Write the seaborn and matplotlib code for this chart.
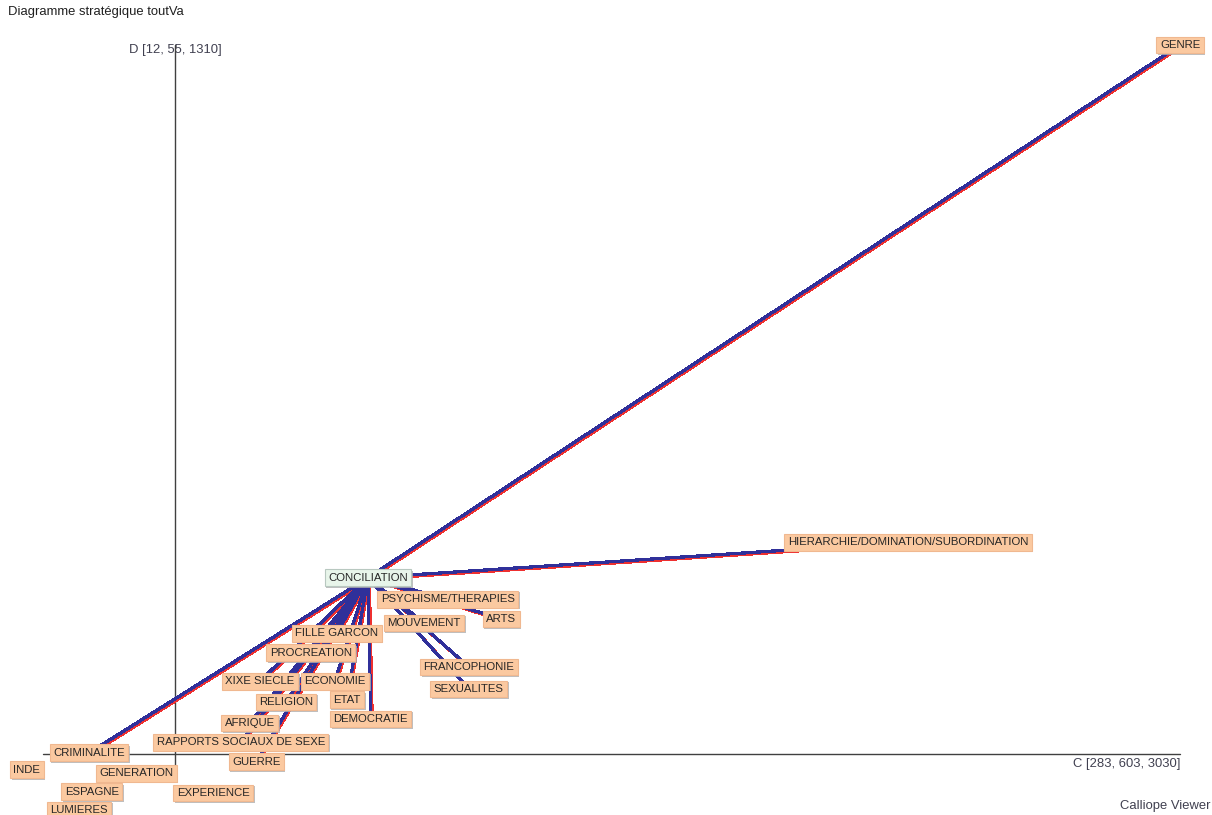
import pandas as pd
import matplotlib.pyplot as plt
import matplotlib.patheffects as pe
from matplotlib.transforms import offset_copy
import seaborn as sns

# node positions (C = centralite, D = densite)
themes = ["GENRE", "HIERARCHIE/DOMINATION/SUBORDINATION", "PSYCHISME/THERAPIES", "ARTS",
          "MOUVEMENT", "FRANCOPHONIE", "SEXUALITES", "FILLE GARCON", "PROCREATION",
          "XIXE SIECLE", "ECONOMIE", "RELIGION", "ETAT", "DEMOCRATIE", "AFRIQUE",
          "RAPPORTS SOCIAUX DE SEXE", "GUERRE", "CRIMINALITE", "INDE", "GENERATION",
          "ESPAGNE", "LUMIERES", "EXPERIENCE"]
c_vals = [3030, 2373, 1261, 1390, 1203, 1312, 1312, 993, 930, 807, 988, 870, 1017, 1075,
          783, 761, 798, 394, 244, 508, 401, 370, 694]
d_vals = [1310, 430, 329, 294, 287, 209, 170, 269, 234, 184, 184, 147, 151, 117, 110,
          76, 41, 57, 27, 21, -12, -44, -14]
linked = [True] * 18 + [False] * 5

center_name = "CONCILIATION"
center_c, center_d = 1068, 367

# axis ranges [min, median, max]
c_range = [283, 603, 3030]
d_range = [12, 55, 1310]

sns.set_theme(style="white")
plt.rcParams['font.family'] = ['Liberation Sans', 'DejaVu Sans']

fig = plt.figure(figsize=(12.12, 8.15), dpi=100)
ax = fig.add_axes([0, 0, 1, 1])
# pixel layout: C axis spans x 43..1180, D axis spans y 778..45 (from top)
cx = (c_range[2] - c_range[0]) / (1180 - 43)
dy = (d_range[2] - d_range[1]) / (754 - 45)
ax.set_xlim(c_range[0] - 43 * cx, c_range[0] + (1212 - 43) * cx)
ax.set_ylim(d_range[1] - (815 - 754) * dy, d_range[1] + 754 * dy)
ax.axis("off")

# axes of the strategic diagram
ax.plot([c_range[0], c_range[2]], [d_range[1], d_range[1]], color="#404040", lw=1, zorder=1)
ax.plot([c_range[1], c_range[1]], [d_range[0], d_range[2]], color="#404040", lw=1, zorder=1)

# edges from the central theme
rows = []
for name, c, d, l in zip(themes, c_vals, d_vals, linked):
    if l:
        rows.append({"edge": name, "C": center_c, "D": center_d})
        rows.append({"edge": name, "C": c, "D": d})
edges = pd.DataFrame(rows)

n0 = len(ax.lines)
sns.lineplot(data=edges, x="C", y="D", units="edge", estimator=None, sort=False,
             color="#ee3030", lw=1.6, ax=ax, legend=False)
shift = offset_copy(ax.transData, fig=fig, x=1.4, y=-1.4, units="dots")
for ln in ax.lines[n0:]:
    ln.set_transform(shift)
    ln.set_zorder(2)
    ln.set_antialiased(False)
n1 = len(ax.lines)
sns.lineplot(data=edges, x="C", y="D", units="edge", estimator=None, sort=False,
             color="#30309a", lw=1.6, ax=ax, legend=False)
for ln in ax.lines[n1:]:
    ln.set_zorder(3)
    ln.set_antialiased(False)

shadow = [pe.SimplePatchShadow(offset=(1.2, -1.2), shadow_rgbFace="#b0b0b0", alpha=0.8),
          pe.Normal()]

def label(x, y, s, face, edge):
    t = ax.text(x, y, s, ha="center", va="center", fontsize=8.2, color="#262626", zorder=5,
                bbox=dict(boxstyle="square,pad=0.3", fc=face, ec=edge, lw=0.8))
    t.get_bbox_patch().set_path_effects(shadow)

for name, c, d in zip(themes, c_vals, d_vals):
    label(c, d, name, "#fbc9a0", "#f0b890")
label(center_c, center_d, center_name, "#e8f5ea", "#b8c8c0")

ax.text(c_range[1], d_range[1] + (754 - 50) * dy, "D [12, 55, 1310]", ha="center",
        va="center", fontsize=9.4, color="#404050", zorder=0)
ax.text(c_range[2], d_range[1] - 4 * dy, "C [283, 603, 3030]", ha="right", va="top",
        fontsize=9.4, color="#404050")
fig.text(8 / 1212, 1 - 12 / 815, "Diagramme stratégique toutVa", ha="left", va="center",
         fontsize=9.4, color="#202020")
fig.text(1210 / 1212, 1 - 806 / 815, "Calliope Viewer", ha="right", va="center",
         fontsize=9.4, color="#404050")

fig.savefig("out.png", dpi=100)
